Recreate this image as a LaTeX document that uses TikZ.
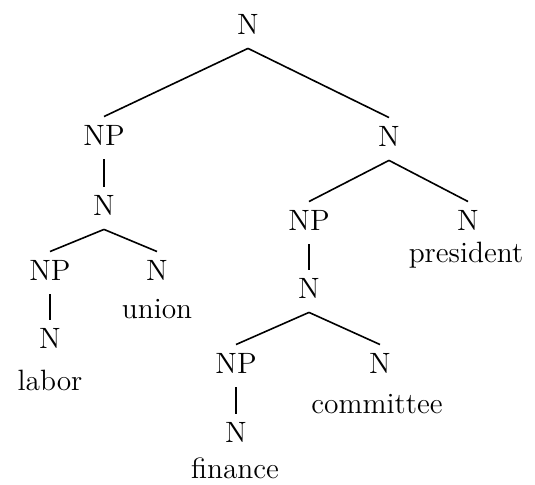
\documentclass[tikz,border=0pt]{standalone}

\begin{document}
\begin{tikzpicture}[x=0.5pt,y=-0.5pt,font=\fontsize{14.7}{17.6}\selectfont,
    cat/.style={inner sep=0pt,anchor=base},
    word/.style={inner sep=0pt,anchor=base},
    branch/.style={line width=0.8pt}]
  \useasboundingbox (0,0) rectangle (535,484);
  % categories
  \node[cat] (top) at (248,34) {N};
  \node[cat] (npL) at (104,145) {NP};
  \node[cat] (nR) at (389,146) {N};
  \node[cat] (nL) at (104,215) {N};
  \node[cat] (npLab) at (50,280) {NP};
  \node[cat] (nUni) at (157,280) {N};
  \node[cat] (nLab) at (50,348) {N};
  \node[cat] (npR) at (309,230) {NP};
  \node[cat] (nPres) at (468,230) {N};
  \node[cat] (nC) at (309,298) {N};
  \node[cat] (npFin) at (236,373) {NP};
  \node[cat] (nCom) at (380,373) {N};
  \node[cat] (nFin) at (236,442) {N};
  % words
  \node[word] (labor) at (50,390) {labor};
  \node[word] (union) at (157,318) {union};
  \node[word] (president) at (466,262) {president};
  \node[word] (committee) at (377,413) {committee};
  \node[word] (finance) at (235,478) {finance};
  % branches
  \foreach \p/\c in {top/npL,top/nR,npL/nL,nL/npLab,nL/nUni,npLab/nLab,
      nR/npR,nR/nPres,npR/nC,nC/npFin,nC/nCom,npFin/nFin}
    \draw[branch] ([yshift=-7pt]\p.south) -- ([yshift=4pt]\c.north);
\end{tikzpicture}
\end{document}
